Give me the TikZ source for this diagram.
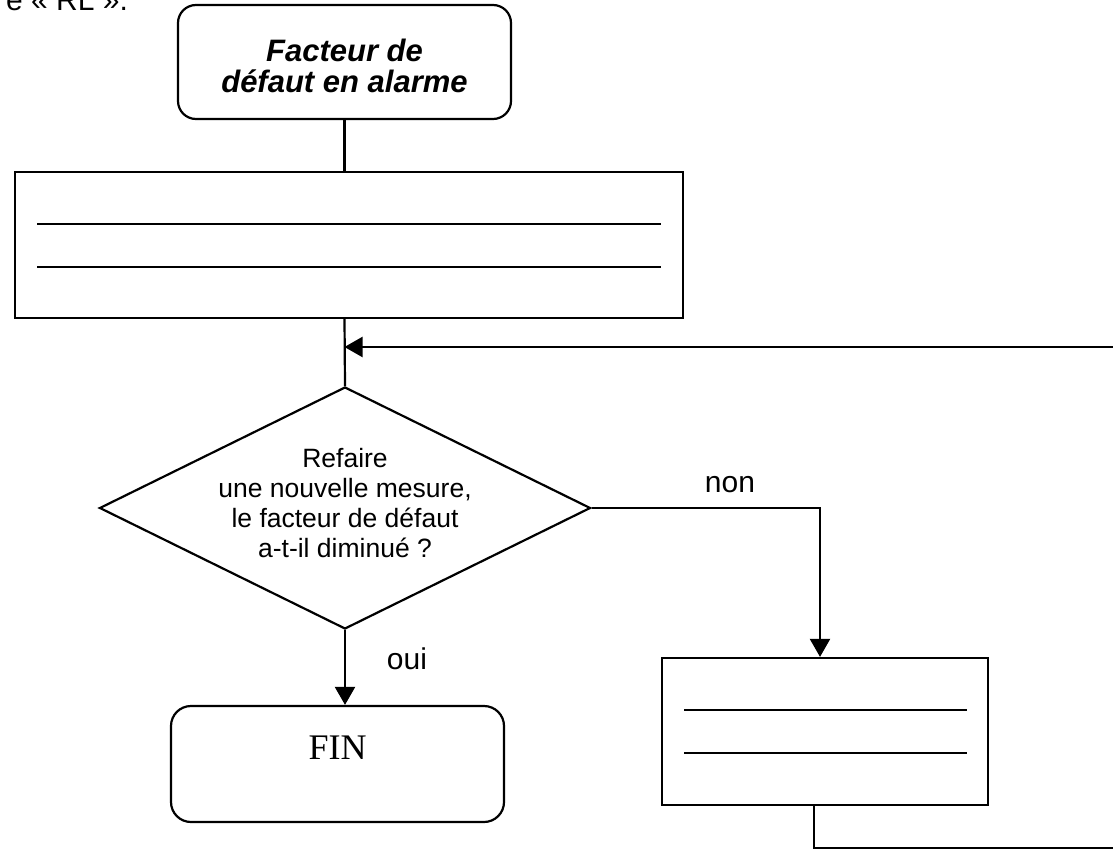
\documentclass[tikz,border=0pt]{standalone}
\usepackage{fontspec}
\setmainfont{Liberation Sans}
\newfontfamily\serifA{Liberation Serif}
\usetikzlibrary{shapes.geometric,arrows.meta}
\begin{document}
\begin{tikzpicture}[x=1pt,y=-1pt, line width=2.2pt,
  termbox/.style={draw, rounded corners=18pt, minimum width=333pt, minimum height=114pt, inner sep=0pt, align=center},
  procbox/.style={draw, inner sep=0pt},
  rule/.style={line width=2.6pt},
  arr/.style={-{Triangle[length=18pt,width=20pt]}},
  lbl/.style={font=\fontsize{30}{34}\selectfont, inner sep=0pt}]
\useasboundingbox (0,0) rectangle (1113,850);
\node[anchor=base east, inner sep=0pt, font=\fontsize{30}{34}\selectfont] (hdr) at (129,11) {e « RL ».};
\node[termbox, font=\fontsize{31}{31}\selectfont\bfseries\itshape, text height=62pt, text depth=0pt] (top) at (344.5,62) {Facteur de\\défaut en alarme};
\node[procbox, minimum width=668pt, minimum height=146pt] (box2) at (349,245) {};
\draw[rule] (37,224) -- (661,224);
\draw[rule] (37,267) -- (661,267);
\node[draw, diamond, aspect=2, inner xsep=0pt, inner ysep=-5pt, text depth=10pt, minimum width=491pt, minimum height=242pt, align=center, font=\fontsize{26.5}{30}\selectfont] (dia) at (345,508) {Refaire\\une nouvelle mesure,\\le facteur de défaut\\a-t-il diminué ?};
\node[termbox, rounded corners=20pt, minimum height=116pt, font=\serifA\fontsize{36}{40}\selectfont, text height=24pt, text depth=34pt] (fin) at (337.5,764) {FIN};
\node[procbox, minimum width=326pt, minimum height=147pt] (rbox) at (825,731.5) {};
\draw[rule] (684,710) -- (967,710);
\draw[rule] (684,753) -- (967,753);
\coordinate (rt) at (1130,347);
\coordinate (rb) at (1130,848);
\draw (top.south) -- (top.south |- box2.north);
\draw (top.south |- box2.south) -- (dia.north);
\draw[arr] (rt) -- (rt -| top.south);
\draw[arr] (dia.south) -- (dia.south |- fin.north);
\node[lbl] (oui) at (407,659) {oui};
\draw[arr] (dia.east) -| ([xshift=-5pt]rbox.north);
\node[lbl] (non) at (730,485) {non};
\draw ([xshift=-11pt]rbox.south) |- (rb);
\end{tikzpicture}
\end{document}
